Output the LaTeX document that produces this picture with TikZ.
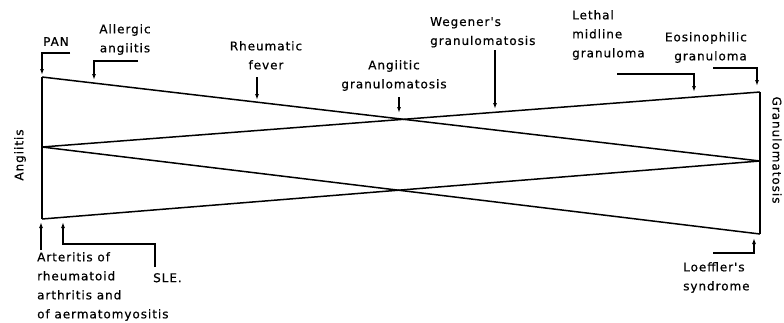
\documentclass[tikz,border=0pt]{standalone}
\usepackage{fontspec}
\newfontfamily\labfont{DejaVu Sans}[LetterSpace=8, FakeBold=0.6]
\usetikzlibrary{positioning,arrows.meta,calc}

\begin{document}
\begin{tikzpicture}[
  x=1pt, y=-1pt,
  >={Latex[length=6pt,width=4pt]},
  lbl/.style={inner sep=0pt, align=left,
              font=\labfont\fontsize{12}{19}\selectfont},
  edge/.style={line width=1.5pt, line join=miter},
  arrow/.style={->, line width=1.2pt}
]
\useasboundingbox (0,0) rectangle (784,322);

% Corners
\coordinate (lt) at (42,77);
\coordinate (lm) at (42,147);
\coordinate (lb) at (42,219);
\coordinate (rt) at (760,92);
\coordinate (rm) at (760,161);
\coordinate (rb) at (760,234);

% Frame and crossing lines
\draw[edge] (lt) -- (lb);
\draw[edge] (rt) -- (rb);
\draw[edge] (lt) -- (rm);
\draw[edge] (lm) -- (rt);
\draw[edge] (lm) -- (rb);
\draw[edge] (lb) -- (rm);

% Side labels
\node[lbl, rotate=90]  (angiitis) at (20,155) {Angiitis};
\node[lbl, rotate=-90] (granul)   at (777,150) {Granulomatosis};

% Top labels
\node[lbl, anchor=north west] (pan) at (43,37) {PAN};
\node[lbl, anchor=north, align=center] (allerg) at (125,24) {Allergic\\ angiitis};
\node[lbl, anchor=north, align=center] (rheum)  at (266,41) {Rheumatic\\ fever};
\node[lbl, anchor=north, align=center] (ang_gr) at (394,60) {Angiitic\\ granulomatosis};
\node[lbl, anchor=north west] (wegen)  at (430,17) {Wegener's\\ granulomatosis};
\node[lbl, anchor=north west] (lethal) at (572,10) {Lethal\\ midline\\ granuloma};
\node[lbl, anchor=north east, align=right] (eosin) at (747,32) {Eosinophilic\\ granuloma};

% Bottom labels
\node[lbl, anchor=north west] (arter) at (37,252) {Arteritis of\\ rheumatoid\\ arthritis and\\ of aermatomyositis};
\node[lbl, anchor=north west] (sle)   at (153,273) {SLE.};
\node[lbl, anchor=north west] (loeff) at (683,262) {Loeffler's\\ syndrome};

% Arrow ends
\coordinate (pan_s)  at (70,53);   \coordinate (pan_e)  at (42,75);
\coordinate (all_s)  at (138,61);  \coordinate (all_e)  at (94,80);
\coordinate (rhe_s)  at (257,77);  \coordinate (rhe_e)  at (257,100);
\coordinate (agr_s)  at (399,97);  \coordinate (agr_e)  at (399,113);
\coordinate (weg_s)  at (495,50);  \coordinate (weg_e)  at (495,109);
\coordinate (let_s)  at (617,74);  \coordinate (let_e)  at (694,92);
\coordinate (eos_s)  at (713,68);  \coordinate (eos_e)  at (757,86);
\coordinate (art_s)  at (41,250);  \coordinate (art_e)  at (41,222);
\coordinate (sle_s)  at (155,267); \coordinate (sle_k)  at (63,244);
\coordinate (sle_e)  at (63,222);
\coordinate (loe_s)  at (713,253); \coordinate (loe_e)  at (754,238);

% Arrows
\draw[arrow] (pan_s) -| (pan_e);
\draw[arrow] (all_s) -| (all_e);
\draw[arrow] (rhe_s) -- (rhe_e);
\draw[arrow] (agr_s) -- (agr_e);
\draw[arrow] (weg_s) -- (weg_e);
\draw[arrow] (let_s) -| (let_e);
\draw[arrow] (eos_s) -| (eos_e);
\draw[arrow] (art_s) -- (art_e);
\draw[arrow] (sle_s) |- (sle_k) -- (sle_e);
\draw[arrow] (loe_s) -| (loe_e);

\end{tikzpicture}
\end{document}
